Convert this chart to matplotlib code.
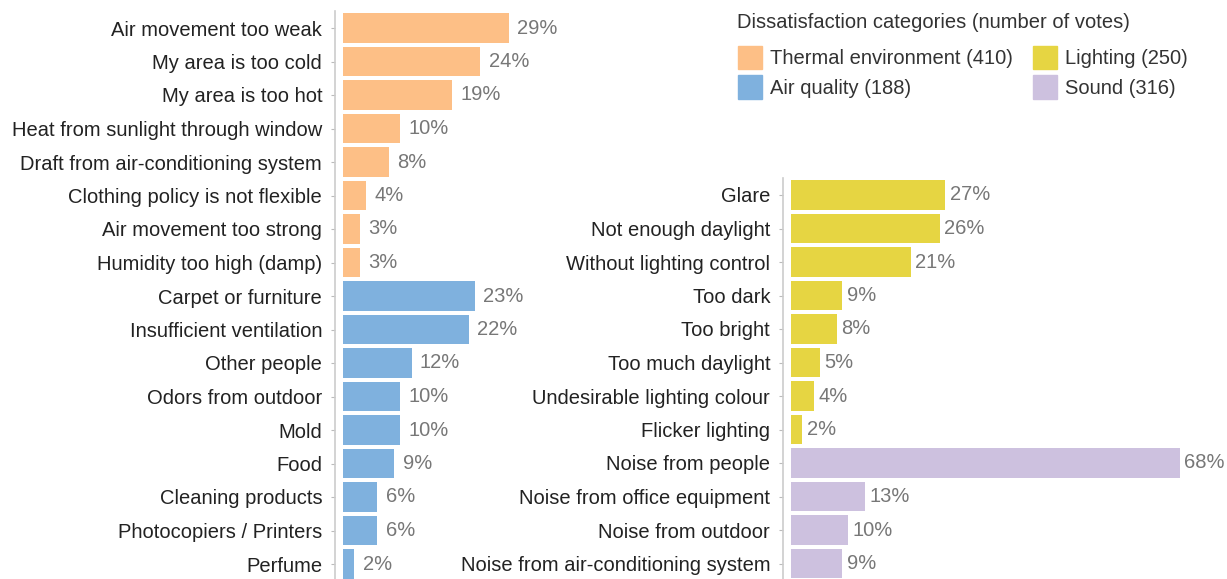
import matplotlib.pyplot as plt
from matplotlib.patches import Patch

plt.rcParams['font.family'] = ['Liberation Sans', 'DejaVu Sans']

# left panel: thermal + air quality
thermal_labels = ["Air movement too weak", "My area is too cold", "My area is too hot",
                  "Heat from sunlight through window", "Draft from air-conditioning system",
                  "Clothing policy is not flexible", "Air movement too strong",
                  "Humidity too high (damp)"]
thermal_vals = [29, 24, 19, 10, 8, 4, 3, 3]
air_labels = ["Carpet or furniture", "Insufficient ventilation", "Other people",
              "Odors from outdoor", "Mold", "Food", "Cleaning products",
              "Photocopiers / Printers", "Perfume"]
air_vals = [23, 22, 12, 10, 10, 9, 6, 6, 2]

# right panel: lighting + sound
light_labels = ["Glare", "Not enough daylight", "Without lighting control", "Too dark",
                "Too bright", "Too much daylight", "Undesirable lighting colour",
                "Flicker lighting"]
light_vals = [27, 26, 21, 9, 8, 5, 4, 2]
sound_labels = ["Noise from people", "Noise from office equipment", "Noise from outdoor",
                "Noise from air-conditioning system"]
sound_vals = [68, 13, 10, 9]

legend_title = "Dissatisfaction categories (number of votes)"
legend_names = ["Thermal environment (410)", "Air quality (188)", "Lighting (250)", "Sound (316)"]

c_thermal = "#fdbf86"
c_air = "#7fb1de"
c_light = "#e6d542"
c_sound = "#cdc1df"

W, H = 1227, 579
fig = plt.figure(figsize=(W / 100, H / 100), dpi=100)

row = 33.5
scale = 5.72  # px per percent
fs = 14.5


def panel(left_px, top_px, xmax, labels, vals, colors, pad):
    n = len(labels)
    height_px = H - top_px
    ax = fig.add_axes([left_px / W, 0, xmax * scale / W, height_px / H])
    y = list(range(n))
    bars = ax.barh(y, vals, height=0.88, color=colors)
    ax.bar_label(bars, labels=[f"{v}%" for v in vals], padding=pad,
                 color="#777777", fontsize=fs)
    ax.set_yticks(y)
    ax.set_yticklabels(labels)
    ax.set_xlim(0, xmax)
    ax.set_ylim(-0.5 + height_px / row, -0.5)
    for s in ["top", "right", "bottom"]:
        ax.spines[s].set_visible(False)
    ax.spines["left"].set_position(("outward", 6))
    ax.spines["left"].set_color("#cccccc")
    ax.spines["left"].set_linewidth(1.2)
    ax.tick_params(axis="y", length=3, color="#bbbbbb", pad=6,
                   labelsize=fs, labelcolor="#222222")
    ax.set_xticks([])
    return ax


panel(343, 28 - row / 2, 45, thermal_labels + air_labels, thermal_vals + air_vals,
      [c_thermal] * len(thermal_vals) + [c_air] * len(air_vals), 6)
panel(791, 195 - row / 2, 76, light_labels + sound_labels, light_vals + sound_vals,
      [c_light] * len(light_vals) + [c_sound] * len(sound_vals), 3)

fig.text(737 / W, 1 - 22 / H, legend_title, fontsize=fs, color="#333333",
         ha="left", va="center")
handles = [Patch(color=c) for c in [c_thermal, c_air, c_light, c_sound]]
leg = fig.legend(handles, legend_names, ncol=2, loc="upper left",
                 bbox_to_anchor=(738 / W, 1 - 46 / H), frameon=False, borderpad=0,
                 borderaxespad=0, fontsize=fs, handlelength=1.2, handleheight=1.4,
                 handletextpad=0.4, columnspacing=1.0, labelspacing=0.3)
for t in leg.get_texts():
    t.set_color("#333333")

fig.savefig("out.png", dpi=100)
